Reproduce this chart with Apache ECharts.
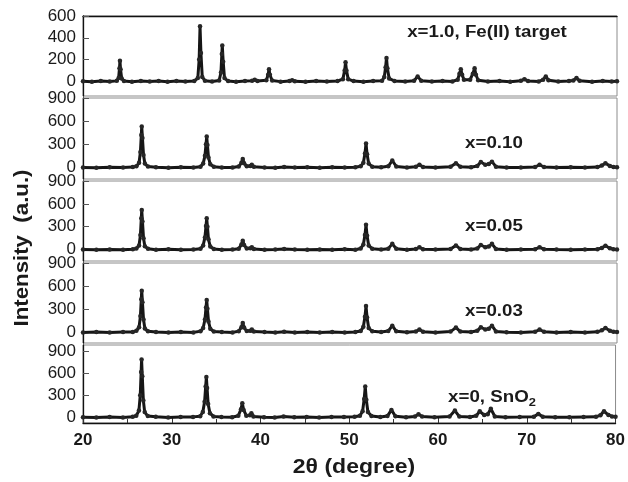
<!DOCTYPE html>
<html>
<head>
<meta charset="utf-8">
<script src="https://cdn.jsdelivr.net/npm/echarts@6/dist/echarts.min.js"></script>
<style>
  html, body { margin: 0; padding: 0; background: #fff; }
  #chart { width: 628px; height: 482px; }
</style>
</head>
<body>
<div id="chart"></div>
<script>
// XRD patterns, [2θ (deg), intensity (a.u.)]
const feTarget = [
  [20,0],[21,-4],[22,3],[23,-2],[23.8,4],[24.0,30],[24.1,120],[24.15,190],[24.22,110],[24.35,25],[24.6,2],
  [25.5,-3],[26.5,2],[27.5,-2],[28.5,3],[29.5,-3],[30.5,2],[31.5,-2],[32.5,3],
  [32.9,30],[33.05,200],[33.15,505],[33.25,260],[33.4,40],[33.7,5],[34.5,-2],
  [35.3,8],[35.5,80],[35.6,250],[35.65,330],[35.75,180],[35.9,30],[36.3,2],[37.2,-3],[38.2,3],
  [39.0,4],[39.3,15],[39.6,2],[40.6,10],[40.8,60],[40.9,110],[41.0,60],[41.25,8],
  [42.2,-3],[43.2,2],[43.5,10],[43.8,0],[45,-3],[46.2,2],[47.4,-2],[48.6,3],
  [49.2,20],[49.4,100],[49.5,175],[49.6,100],[49.8,20],[50.4,2],[51.5,-3],[52.6,2],
  [53.6,4],[53.85,40],[54.0,130],[54.1,215],[54.2,120],[54.4,25],[55,3],[56.2,-2],
  [57.2,5],[57.6,45],[58.0,5],[59.2,-2],[60.4,2],[61.5,-2],
  [62.1,15],[62.3,70],[62.45,110],[62.6,60],[62.8,15],[63.5,15],[63.8,70],[64.0,120],[64.15,60],[64.4,10],
  [65.5,-2],[66.8,2],[68,-3],[69.2,4],[69.6,20],[70,2],[71.2,-2],[71.7,15],[72.0,45],[72.3,10],
  [73.4,-2],[74.6,2],[75.1,8],[75.45,30],[75.8,4],[77.2,-3],[78.4,2],[79.4,-2],[80,0]
];
const x010 = [
  [20,0],[21.5,-4],[23,3],[24.5,-2],[25.6,4],[26.0,15],[26.3,60],[26.45,200],[26.55,420],[26.6,530],[26.68,380],[26.8,160],[26.95,50],[27.3,12],
  [28.2,2],[29.6,-3],[31,2],[32.4,-2],[33.2,10],[33.5,50],[33.7,150],[33.82,300],[33.9,400],[33.98,290],[34.1,130],[34.3,40],[34.7,8],
  [35.6,0],[36.8,-2],[37.5,12],[37.8,60],[37.95,110],[38.1,55],[38.4,15],[38.8,20],[38.97,35],[39.2,8],
  [40.4,0],[41.6,-3],[42.6,5],[43.8,-2],[45.2,2],[46.6,-3],[48,2],[49.4,-2],[50.6,3],
  [51.2,15],[51.5,60],[51.68,180],[51.8,310],[51.92,170],[52.1,50],[52.5,10],[53.5,2],
  [54.3,15],[54.75,90],[55.2,12],[56.4,0],[57.4,8],[57.8,35],[58.2,6],[59.6,-2],[61.3,8],[61.9,55],[62.4,8],[63.6,2],
  [64.3,18],[64.7,70],[65.2,35],[65.6,45],[65.95,75],[66.4,10],[67.6,0],[69.2,-2],[70.8,6],[71.3,35],[71.8,6],
  [73.2,-2],[74.8,2],[76.4,-2],[77.8,5],[78.3,25],[78.7,55],[79.2,20],[79.6,6],[80,3]
];
const x005 = [
  [20,2],[21.5,-3],[23,2],[24.5,-3],[25.6,5],[26.0,15],[26.3,55],[26.45,190],[26.55,410],[26.6,520],[26.68,370],[26.8,150],[26.95,45],[27.3,10],
  [28.2,-2],[29.6,3],[31,-2],[32.4,2],[33.2,10],[33.5,55],[33.7,160],[33.82,310],[33.9,410],[33.98,300],[34.1,135],[34.3,40],[34.7,8],
  [35.6,-2],[36.8,2],[37.5,12],[37.8,65],[37.95,115],[38.1,60],[38.4,15],[38.8,18],[38.97,32],[39.2,6],
  [40.4,-2],[41.6,2],[42.6,6],[43.8,0],[45.2,-3],[46.6,2],[48,-2],[49.4,3],[50.6,-2],
  [51.2,15],[51.5,65],[51.68,190],[51.8,325],[51.92,180],[52.1,55],[52.5,10],[53.5,0],
  [54.3,12],[54.75,75],[55.2,10],[56.4,-2],[57.4,6],[57.8,30],[58.2,5],[59.6,0],[61.3,8],[61.9,55],[62.4,6],[63.6,0],
  [64.3,15],[64.7,60],[65.2,30],[65.6,40],[65.95,75],[66.4,8],[67.6,-2],[69.2,2],[70.8,5],[71.3,30],[71.8,5],
  [73.2,0],[74.8,-2],[76.4,2],[77.8,4],[78.3,22],[78.7,50],[79.2,18],[79.6,5],[80,2]
];
const x003 = [
  [20,-2],[21.5,3],[23,-2],[24.5,3],[25.6,4],[26.0,18],[26.3,65],[26.45,210],[26.55,430],[26.6,540],[26.68,390],[26.8,165],[26.95,50],[27.3,12],
  [28.2,2],[29.6,-2],[31,3],[32.4,-2],[33.2,12],[33.5,55],[33.7,165],[33.82,320],[33.9,420],[33.98,305],[34.1,140],[34.3,45],[34.7,8],
  [35.6,2],[36.8,-2],[37.5,14],[37.8,65],[37.95,120],[38.1,60],[38.4,15],[38.8,20],[38.97,35],[39.2,8],
  [40.4,2],[41.6,-2],[42.6,6],[43.8,-3],[45.2,2],[46.6,-2],[48,3],[49.4,-2],[50.6,2],
  [51.2,15],[51.5,70],[51.68,200],[51.8,340],[51.92,190],[52.1,55],[52.5,12],[53.5,2],
  [54.3,15],[54.75,85],[55.2,12],[56.4,0],[57.4,8],[57.8,35],[58.2,6],[59.6,-2],[61.3,8],[61.9,60],[62.4,8],[63.6,2],
  [64.3,18],[64.7,65],[65.2,35],[65.6,45],[65.95,85],[66.4,10],[67.6,0],[69.2,-2],[70.8,6],[71.3,35],[71.8,6],
  [73.2,-2],[74.8,2],[76.4,-2],[77.8,5],[78.3,25],[78.7,55],[79.2,20],[79.6,6],[80,3]
];
const x000 = [
  [20,0],[21.5,-5],[23,3],[24.5,-3],[25.6,5],[26.0,20],[26.3,90],[26.45,300],[26.55,620],[26.6,790],[26.68,560],[26.8,230],[26.95,70],[27.3,15],
  [28.2,5],[29.6,-3],[31,2],[32.4,4],[33.2,12],[33.5,70],[33.7,210],[33.82,420],[33.9,550],[33.98,400],[34.1,180],[34.3,55],[34.7,10],
  [35.6,2],[36.8,0],[37.5,20],[37.8,110],[37.95,190],[38.1,100],[38.4,20],[38.8,25],[38.97,55],[39.2,10],
  [40.4,0],[41.6,-3],[42.6,8],[43.8,-2],[45.2,2],[46.6,-3],[48,2],[49.4,4],[50.6,5],
  [51.2,20],[51.5,80],[51.68,250],[51.8,420],[51.92,240],[52.1,70],[52.5,15],[53.5,3],
  [54.3,15],[54.75,100],[55.2,12],[56.4,0],[57.4,10],[57.8,40],[58.2,8],[59.6,0],[61.3,10],[61.9,90],[62.4,8],[63.6,3],
  [64.3,20],[64.7,80],[65.2,30],[65.6,40],[65.95,115],[66.4,10],[67.6,0],[69.2,2],[70.8,6],[71.3,45],[71.8,6],
  [73.2,0],[74.8,-2],[76.4,2],[77.8,5],[78.3,28],[78.7,80],[79.2,30],[79.6,10],[80,5]
];

const tickTop = [0, 200, 400, 600];
const tickLower = [0, 300, 600, 900];
const panelSeries = [feTarget, x010, x005, x003, x000];
const panelLabels = ['x=1.0, Fe(II) target', 'x=0.10', 'x=0.05', 'x=0.03', 'x=0, SnO{sub|2}'];

// panel geometry: [top, height, yMin, yMax]
const panels = [
  [16, 80, -135, 600],
  [98, 81, -150, 900],
  [181, 80, -150, 900],
  [263, 80, -140, 900],
  [345, 78, -80, 990]
];
const labelPos = [[487, 33], [494, 144], [494, 227], [494, 312], [492, 398]];

const FONT = 'Liberation Sans, Arial, Helvetica, sans-serif';
const chart = echarts.init(document.getElementById('chart'), null, { renderer: 'canvas' });

const grid = panels.map(p => ({
  left: 83, right: 11, top: p[0], height: p[1],
  show: true, borderColor: '#8c8c8c', borderWidth: 1, backgroundColor: 'transparent'
}));

const xAxis = panels.map((p, i) => {
  const last = i === panels.length - 1;
  return {
    gridIndex: i, type: 'value', min: 20, max: 80, interval: 10,
    position: i === 0 ? 'top' : 'bottom',
    axisLine: { show: i === 0 || last, onZero: false, lineStyle: { color: '#111', width: 1.3 } },
    axisTick: { show: last, inside: true, length: 6, lineStyle: { color: '#333' } },
    minorTick: { show: last, splitNumber: 2, length: 4, lineStyle: { color: '#333' } },
    axisLabel: { show: last, margin: 9, fontFamily: FONT, fontSize: 17, fontWeight: 'bold', color: '#1a1a1a' },
    splitLine: { show: false }
  };
});

const yAxis = panels.map((p, i) => {
  const ticks = i === 0 ? tickTop : tickLower;
  return {
    gridIndex: i, type: 'value', min: p[2], max: p[3],
    axisLine: { show: true, onZero: false, lineStyle: { color: '#111', width: 1.3 } },
    axisTick: { show: true, inside: true, length: 6, customValues: ticks, lineStyle: { color: '#555' } },
    axisLabel: { show: true, margin: 7, customValues: ticks, fontFamily: FONT, fontSize: 17, color: '#1a1a1a' },
    splitLine: { show: false }
  };
});

const series = panelSeries.map((d, i) => ({
  type: 'line', xAxisIndex: i, yAxisIndex: i, data: d,
  showSymbol: true, showAllSymbol: true, symbol: 'circle', symbolSize: 4.5,
  itemStyle: { color: '#262626' },
  lineStyle: { color: '#161616', width: 3 },
  animation: false, silent: true
}));

const graphic = panelLabels.map((t, i) => ({
  type: 'text', x: labelPos[i][0], y: labelPos[i][1], scaleX: 1.17,
  style: {
    text: t, textAlign: 'center', textVerticalAlign: 'middle',
    fontFamily: FONT, fontSize: 16, fontWeight: 'bold', fill: '#1a1a1a',
    rich: { sub: { fontFamily: FONT, fontSize: 11, fontWeight: 'bold', fill: '#1a1a1a', padding: [9, 0, 0, 0] } }
  }
})).concat([
  {
    type: 'text', x: 354, y: 467, scaleX: 1.15,
    style: { text: '2θ (degree)', textAlign: 'center', textVerticalAlign: 'middle',
      fontFamily: FONT, fontSize: 20, fontWeight: 'bold', fill: '#1a1a1a' }
  },
  {
    type: 'text', x: 22, y: 248, rotation: Math.PI / 2, scaleX: 1.06,
    style: { text: 'Intensity  (a.u.)', textAlign: 'center', textVerticalAlign: 'middle',
      fontFamily: FONT, fontSize: 21, fontWeight: 'bold', fill: '#1a1a1a' }
  }
]);

chart.setOption({
  animation: false,
  backgroundColor: '#fff',
  grid, xAxis, yAxis, series, graphic
});
</script>
</body>
</html>
